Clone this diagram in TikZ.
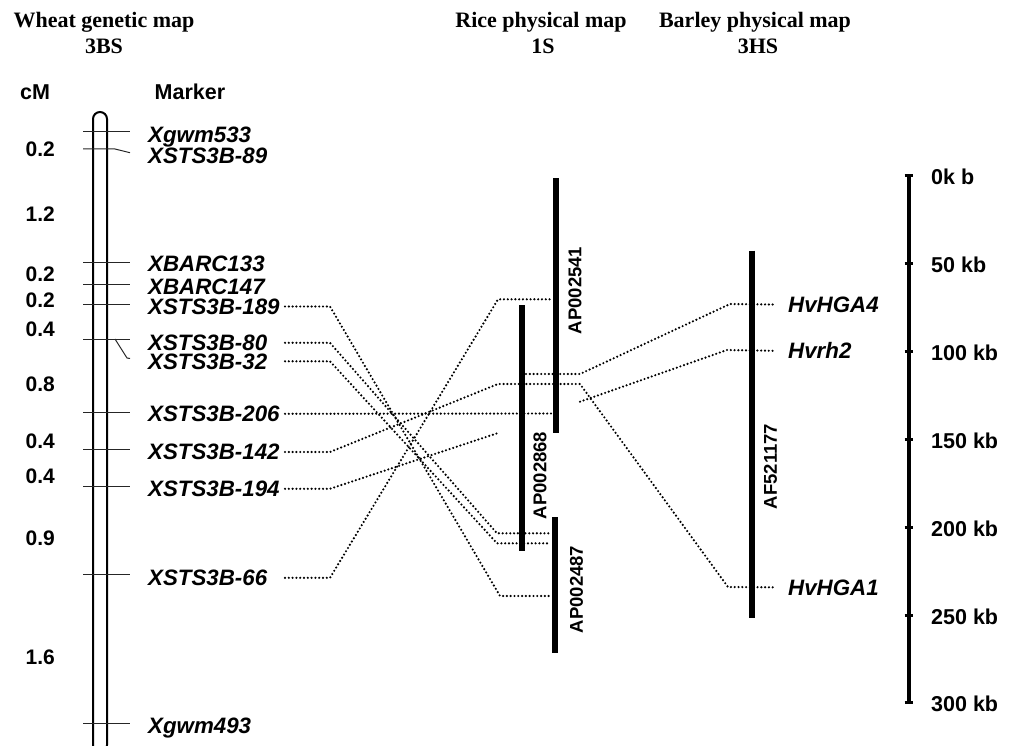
\documentclass[tikz,border=0pt]{standalone}
\usepackage{fontspec}
\setmainfont{Liberation Serif}
\newfontfamily\arialf{Liberation Sans}
\begin{document}
\begin{tikzpicture}[x=1pt,y=-1pt,
  title/.style={font=\bfseries\fontsize{22}{24}\selectfont, anchor=base, inner sep=0pt},
  head/.style={font=\arialf\bfseries\fontsize{21.5}{22}\selectfont, anchor=base, inner sep=0pt},
  mk/.style={font=\arialf\bfseries\itshape\fontsize{22.3}{22}\selectfont, anchor=west, inner sep=0pt, text height=15.8pt, text depth=0pt},
  num/.style={font=\arialf\bfseries\fontsize{21}{21}\selectfont, anchor=base east, inner sep=0pt},
  kb/.style={font=\arialf\bfseries\fontsize{21.5}{22}\selectfont, anchor=base west, inner sep=0pt},
  acc/.style={font=\arialf\bfseries\fontsize{18.5}{18}\selectfont, rotate=90, inner sep=0pt},
  bar/.style={line width=6pt},
  tk/.style={line width=1pt, black!85},
  dotl/.style={line width=2.4pt, dash pattern=on 0pt off 3.8pt, line cap=round},
  chrom/.style={line width=2pt, rounded corners=7pt},
  scalebar/.style={line width=4pt},
  scaletick/.style={line width=3pt}
]
\useasboundingbox (0,0) rectangle (1014,746);
\clip (0,0) rectangle (1014,746);

% titles
\node[title] (t1) at (104,28) {Wheat genetic map};
\node[title] (t1b) at (104,53.3) {3BS};
\node[title] (t2) at (541,27.7) {Rice physical map};
\node[title] (t2b) at (543,54) {1S};
\node[title] (t3) at (755,27.7) {Barley physical map};
\node[title] (t3b) at (758,54) {3HS};

% headers
\node[head] (hcm) at (35,100) {cM};
\node[head] (hmk) at (190,100) {Marker};

% chromosome
\draw[chrom] (93,112) rectangle (107,752);
\foreach \y in {132,262,284,304,412,449,486,574,723}
  \draw[tk] (83,\y) -- (130,\y);
\draw[tk] (83,149) -- (115,149) -- (130,152.7);
\draw[tk] (83,339) -- (130,339);
\draw[tk] (115,339) -- (127,358) -- (130,358.5);

% cM values
\foreach \y/\v in {156.5/0.2, 221/1.2, 281.5/0.2, 307.5/0.2, 336/0.4, 391.5/0.8, 448.5/0.4, 483.5/0.4, 545/0.9, 664.5/1.6}
  \node[num] at (55,\y) {\v};

% markers
\node[mk] (m533) at (148,134.2) {Xgwm533};
\node[mk] (m89)  at (148,155.5) {XSTS3B-89};
\node[mk] (m133) at (148,264) {XBARC133};
\node[mk] (m147) at (148,286.7) {XBARC147};
\node[mk] (m189) at (148,306.5) {XSTS3B-189};
\node[mk] (m80)  at (148,342.8) {XSTS3B-80};
\node[mk] (m32)  at (148,361.3) {XSTS3B-32};
\node[mk] (m206) at (148,413.8) {XSTS3B-206};
\node[mk] (m142) at (148,452) {XSTS3B-142};
\node[mk] (m194) at (148,488.8) {XSTS3B-194};
\node[mk] (m66)  at (148,577.8) {XSTS3B-66};
\node[mk] (m493) at (148,725.2) {Xgwm493};

% rice contigs
\coordinate (r41t) at (556.3,178.3);  \coordinate (r41b) at (556.3,432.7);
\coordinate (r68t) at (522.3,305);    \coordinate (r68b) at (522.3,550.7);
\coordinate (r87t) at (554.5,517.3);  \coordinate (r87b) at (554.5,653.3);
\draw[bar] (r41t) -- (r41b);
\draw[bar] (r68t) -- (r68b);
\draw[bar] (r87t) -- (r87b);
\node[acc] (l41) at (575,290.5) {AP002541};
\node[acc] (l68) at (540,475.5) {AP002868};
\node[acc] (l87) at (576.5,589.5) {AP002487};

% barley contig
\coordinate (b77t) at (752,250.7); \coordinate (b77b) at (752,617.7);
\draw[bar] (b77t) -- (b77b);
\node[acc] (l77) at (770.5,466.5) {AF521177};
\node[mk] (hv4) at (788,304.5) {HvHGA4};
\node[mk] (hv2) at (788,350.8) {Hvrh2};
\node[mk] (hv1) at (788,587.3) {HvHGA1};

% scale bar
\coordinate (s0) at (908.7,176);
\coordinate (s6) at (908.7,703);
\draw[scalebar] (s0) -- (s6);
\foreach \i/\t in {0/0k b,1/50 kb,2/100 kb,3/150 kb,4/200 kb,5/250 kb,6/300 kb}{
  \pgfmathsetmacro{\yy}{176+87.83*\i}
  \draw[scaletick] (904.7,\yy) -- (912.7,\yy);
  \node[kb] at (931,\yy+9) {\t};
}

% dotted connectors
\coordinate (ds) at (285,0);
\coordinate (db) at (330,0);
\coordinate (de) at (773,0);
\draw[dotl] (m189.east -| ds) -- (m189.east -| db) -- (500,596) -- (550,596);
\draw[dotl] (m80.east -| ds) -- (m80.east -| db) -- (497,533.3) -- (550,533.3);
\draw[dotl] (m32.east -| ds) -- (m32.east -| db) -- (497,543.3) -- (550,543.3);
\draw[dotl] (m206.east -| ds) -- (552,413.5);
\draw[dotl] (m142.east -| ds) -- (m142.east -| db) -- (498,384) -- (580,384) -- (728,587) -- (hv1.west -| de);
\draw[dotl] (m194.east -| ds) -- (m194.east -| db) -- (498,433);
\draw[dotl] (m66.east -| ds) -- (m66.east -| db) -- (498,299.3) -- (553,299.3);
\draw[dotl] (526,374) -- (580,374) -- (730,304) -- (hv4.west -| de);
\draw[dotl] (580,401.7) -- (727,350) -- (hv2.west -| de);
\end{tikzpicture}
\end{document}
